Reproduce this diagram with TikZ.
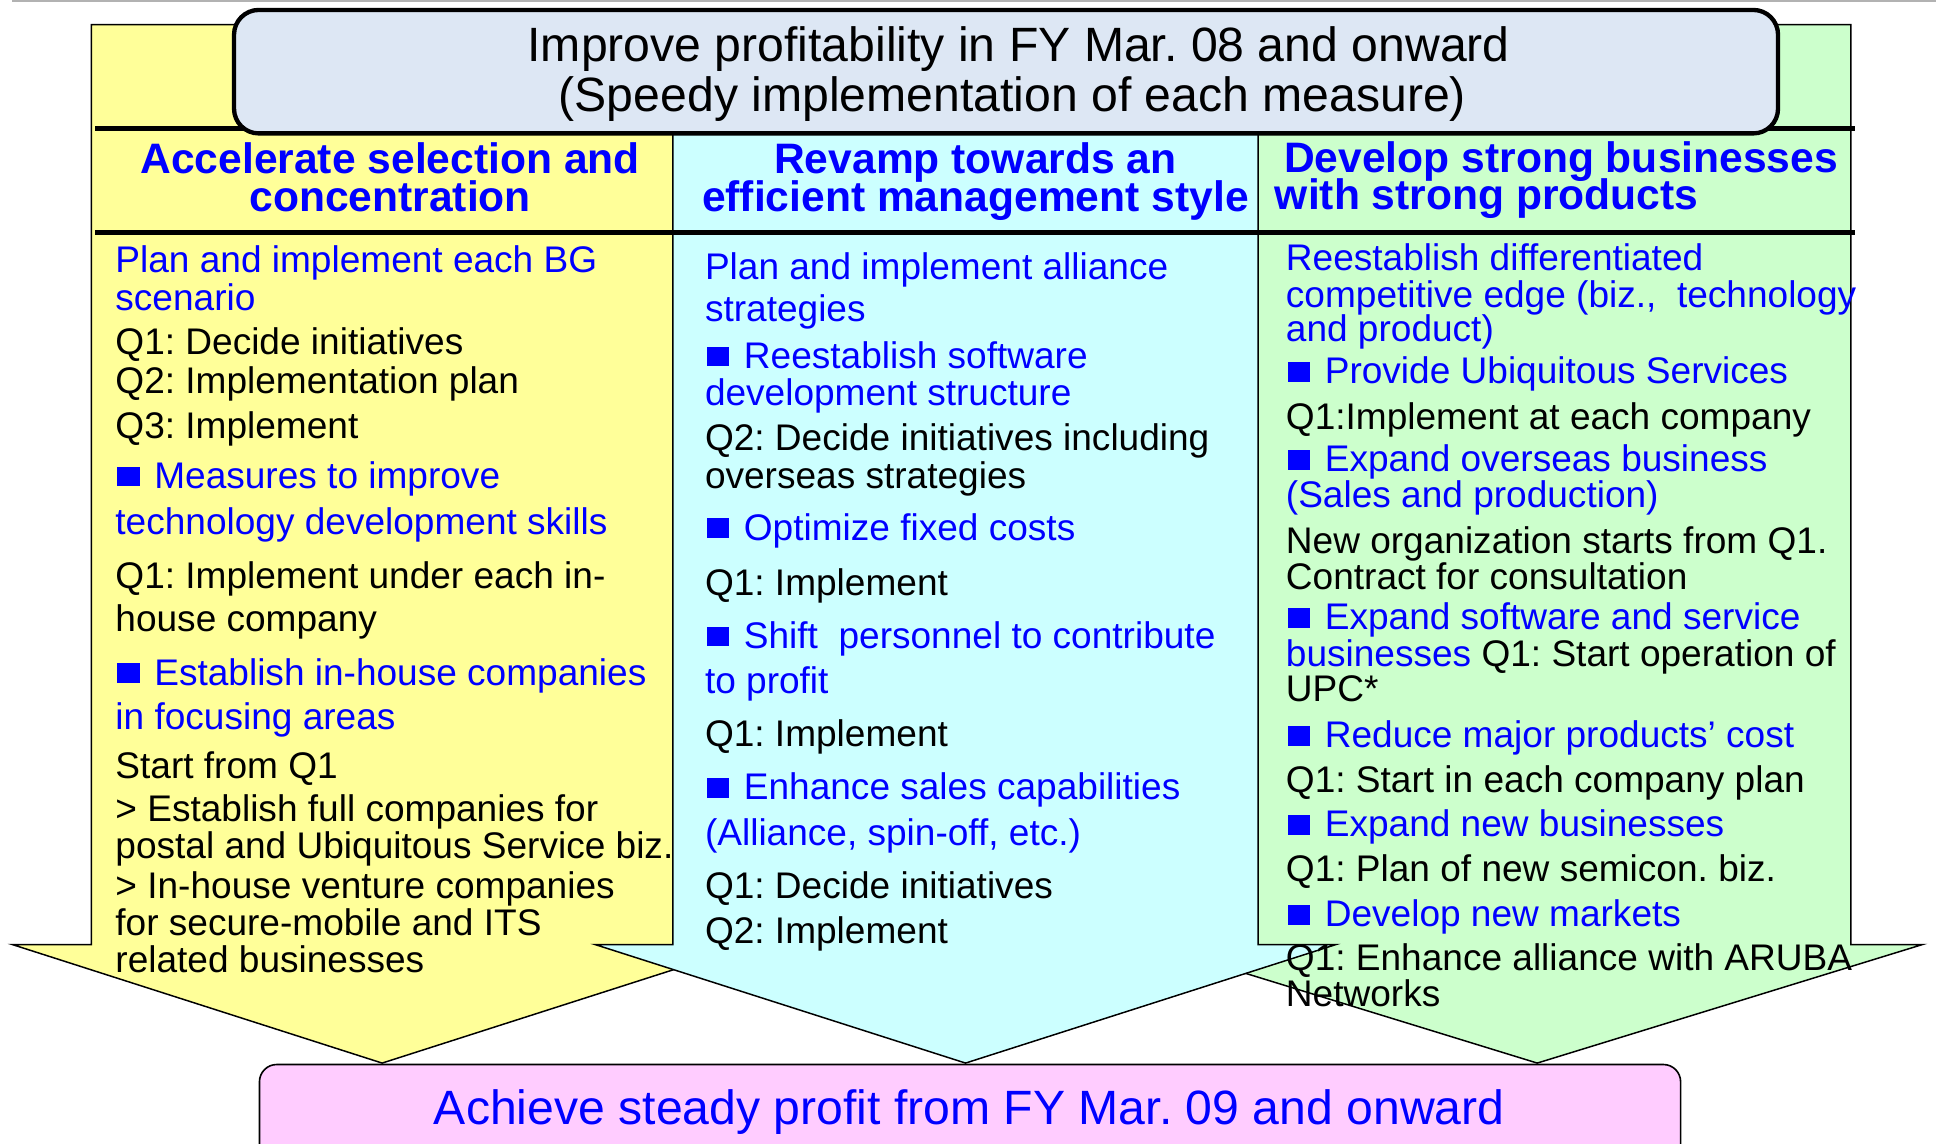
\documentclass[tikz,border=0pt]{standalone}
\usepackage{fontspec}
\setmainfont{Liberation Sans}
\definecolor{ylw}{RGB}{255,255,153}
\definecolor{cyn}{RGB}{204,255,255}
\definecolor{grn}{RGB}{204,255,204}
\definecolor{pnk}{RGB}{255,204,255}
\definecolor{bnr}{RGB}{221,231,244}
\definecolor{tblue}{RGB}{0,0,255}
\newcommand\bsq{\hspace*{1.5pt}\rule[1.5pt]{18pt}{16pt}\hspace{12pt}}
\begin{document}
\frenchspacing
\begin{tikzpicture}[x=1pt,y=-1pt,
  arrowshape/.style={draw=black, line width=1.2pt, line join=miter},
  bk/.style={anchor=base west, inner sep=0pt, outer sep=0pt, font=\fontsize{30}{31}\selectfont, text=black},
  bl/.style={bk, text=tblue},
  hd/.style={anchor=base, inner sep=0pt, outer sep=0pt, font=\fontsize{34.5}{31}\selectfont\bfseries, text=tblue, text height=24pt, text depth=5pt},
  hdl/.style={hd, anchor=base west},
  ttl/.style={anchor=base, inner sep=0pt, outer sep=0pt, font=\fontsize{39}{43}\selectfont, text=black},
  thick line/.style={line width=3.6pt}
]
\useasboundingbox (0,0) rectangle (1568,926);
\fill[white] (0,0) rectangle (1568,926);
\draw[gray!60, line width=1.5pt] (10,0.8) -- (1568,0.8);

% arrows (yellow, green, then cyan on top)
\filldraw[fill=ylw, arrowshape] (74,20) -- (545,20) -- (545,765) -- (609,765) -- (309.5,861) -- (10,765) -- (74,765) -- cycle;
\filldraw[fill=grn, arrowshape] (1019,20) -- (1499,20) -- (1499,765) -- (1557,765) -- (1245,861) -- (933,765) -- (1019,765) -- cycle;
\filldraw[fill=cyn, arrowshape] (545,20) -- (1019,20) -- (1019,765) -- (1082,765) -- (782,861) -- (482,765) -- (545,765) -- cycle;

% thick rules
\draw[thick line] (77,104) -- (1502,104);
\draw[line width=4pt] (77,188) -- (1502,188);

% top banner
\node[draw, line width=3.5pt, fill=bnr, rounded corners=20pt, anchor=north west,
      minimum width=1250.5pt, minimum height=100pt, inner sep=0pt] (banner) at (187.8,6.3) {};
\node[ttl] (t1) at (825,50) {Improve profitability in FY Mar. 08 and onward};
\node[ttl] (t2) at (820,90) {(Speedy implementation of each measure)};

% bottom banner
\node[draw, line width=1.3pt, fill=pnk, rounded corners=14pt, anchor=north west,
      minimum width=1151pt, minimum height=95pt, inner sep=0pt] (goal) at (209.5,861.5) {};
\node[ttl, text=tblue] (goaltxt) at (785,911) {Achieve steady profit from FY Mar. 09 and onward};

% headers
\node[hd] (h1a) at (316,140.4) {Accelerate selection and};
\node[hd] (h1b) at (316,171.4) {concentration};
\node[hd] (h2a) at (790,140.4) {Revamp towards an};
\node[hd] (h2b) at (790,171.4) {efficient management style};
\node[hdl] (h3a) at (1040,139.5) {Develop strong businesses};
\node[hdl] (h3b) at (1032.6,170) {with strong products};

% column 1
\node[bl] (a1) at (93.5,220.8) {Plan and implement each BG};
\node[bl] (a2) at (93.5,251.1) {scenario};
\node[bk] (a3) at (93.5,287.5) {Q1: Decide initiatives};
\node[bk] (a4) at (93.5,318.6) {Q2: Implementation plan};
\node[bk] (a5) at (93.5,355) {Q3: Implement};
\node[bl] (a6) at (93.5,395.5) {\bsq Measures to improve};
\node[bl] (a7) at (93.5,432.5) {technology development skills};
\node[bk] (a8) at (93.5,476.5) {Q1: Implement under each in-};
\node[bk] (a9) at (93.5,511.6) {house company};
\node[bl] (a10) at (93.5,554.8) {\bsq Establish in-house companies};
\node[bl] (a11) at (93.5,591.2) {in focusing areas};
\node[bk] (a12) at (93.5,630.4) {Start from Q1};
\node[bk] (a13) at (93.5,665.5) {> Establish full companies for};
\node[bk] (a14) at (93.5,695.2) {postal and Ubiquitous Service biz.};
\node[bk] (a15) at (93.5,727.6) {> In-house venture companies};
\node[bk] (a16) at (93.5,758) {for secure-mobile and ITS};
\node[bk] (a17) at (93.5,787.8) {related businesses};

% column 2
\node[bl] (b1) at (571,226.2) {Plan and implement alliance};
\node[bl] (b2) at (571,260.5) {strategies};
\node[bl] (b3) at (571,298.3) {\bsq Reestablish software};
\node[bl] (b4) at (571,328.8) {development structure};
\node[bk] (b5) at (571,365) {Q2: Decide initiatives including};
\node[bk] (b6) at (571,395.5) {overseas strategies};
\node[bl] (b7) at (571,437.4) {\bsq Optimize fixed costs};
\node[bk] (b8) at (571,481.9) {Q1: Implement};
\node[bl] (b9) at (571,525.1) {\bsq Shift~ personnel to contribute};
\node[bl] (b10) at (571,561.5) {to profit};
\node[bk] (b11) at (571,604.7) {Q1: Implement};
\node[bl] (b12) at (571,647.9) {\bsq Enhance sales capabilities};
\node[bl] (b13) at (571,684.4) {(Alliance, spin-off, etc.)};
\node[bk] (b14) at (571,727.6) {Q1: Decide initiatives};
\node[bk] (b15) at (571,764) {Q2: Implement};

% column 3
\node[bl] (c1) at (1041.5,219.2) {Reestablish differentiated};
\node[bl] (c2) at (1041.5,248.9) {competitive edge (biz.,~ technology};
\node[bl] (c3) at (1041.5,276.7) {and product)};
\node[bl] (c4) at (1041.5,311) {\bsq Provide Ubiquitous Services};
\node[bk] (c5) at (1041.5,347.5) {Q1:Implement at each company};
\node[bl] (c6) at (1041.5,382) {\bsq Expand overseas business};
\node[bl] (c7) at (1041.5,411.2) {(Sales and production)};
\node[bk] (c8) at (1041.5,448.2) {New organization starts from Q1.};
\node[bk] (c9) at (1041.5,477.8) {Contract for consultation};
\node[bl] (c10) at (1041.5,510) {\bsq Expand software and service};
\node[bl] (c11) at (1041.5,539.5) {businesses\ {\color{black}Q1: Start operation of}};
\node[bk] (c12) at (1041.5,568.3) {UPC*};
\node[bl] (c13) at (1041.5,605.3) {\bsq Reduce major products’ cost};
\node[bk] (c14) at (1041.5,641.7) {Q1: Start in each company plan};
\node[bl] (c15) at (1041.5,677.6) {\bsq Expand new businesses};
\node[bk] (c16) at (1041.5,714.1) {Q1: Plan of new semicon. biz.};
\node[bl] (c17) at (1041.5,750.5) {\bsq Develop new markets};
\node[bk] (c18) at (1041.5,786.2) {Q1: Enhance alliance with ARUBA};
\node[bk] (c19) at (1041.5,815.3) {Networks};
\end{tikzpicture}
\end{document}
